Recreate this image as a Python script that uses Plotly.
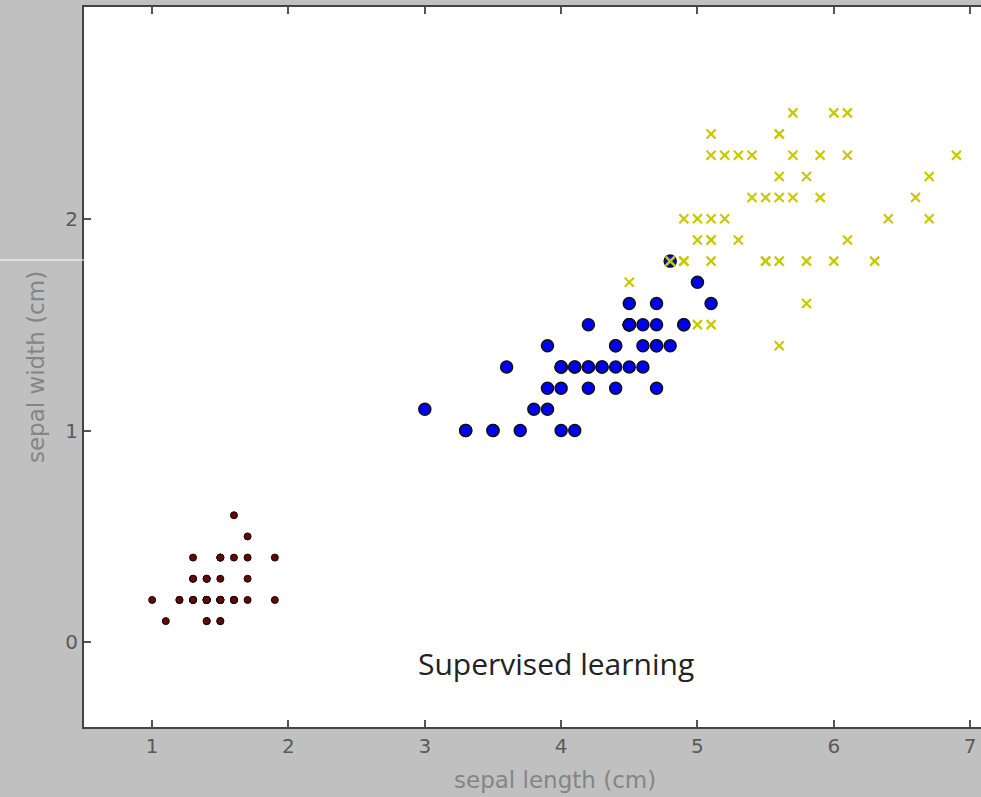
import plotly.graph_objects as go

setosa_x = [1.4, 1.4, 1.3, 1.5, 1.4, 1.7, 1.4, 1.5, 1.4, 1.5, 1.5, 1.6, 1.4, 1.1, 1.2, 1.5, 1.3, 1.4, 1.7, 1.5,
            1.7, 1.5, 1.0, 1.7, 1.9, 1.6, 1.6, 1.5, 1.4, 1.6, 1.6, 1.5, 1.5, 1.4, 1.5, 1.2, 1.3, 1.4, 1.3, 1.5,
            1.3, 1.3, 1.3, 1.6, 1.9, 1.4, 1.6, 1.4, 1.5, 1.4]
setosa_y = [0.2, 0.2, 0.2, 0.2, 0.2, 0.4, 0.3, 0.2, 0.2, 0.1, 0.2, 0.2, 0.1, 0.1, 0.2, 0.4, 0.4, 0.3, 0.3, 0.3,
            0.2, 0.4, 0.2, 0.5, 0.2, 0.2, 0.4, 0.2, 0.2, 0.2, 0.2, 0.4, 0.1, 0.2, 0.2, 0.2, 0.2, 0.1, 0.2, 0.2,
            0.3, 0.3, 0.2, 0.6, 0.4, 0.3, 0.2, 0.2, 0.2, 0.2]

versicolor_x = [4.7, 4.5, 4.9, 4.0, 4.6, 4.5, 4.7, 3.3, 4.6, 3.9, 3.5, 4.2, 4.0, 4.7, 3.6, 4.4, 4.5, 4.1, 4.5, 3.9,
                4.8, 4.0, 4.9, 4.7, 4.3, 4.4, 4.8, 5.0, 4.5, 3.5, 3.8, 3.7, 3.9, 5.1, 4.5, 4.5, 4.7, 4.4, 4.1, 4.0,
                4.4, 4.6, 4.0, 3.3, 4.2, 4.2, 4.2, 4.3, 3.0, 4.1]
versicolor_y = [1.4, 1.5, 1.5, 1.3, 1.5, 1.3, 1.6, 1.0, 1.3, 1.4, 1.0, 1.5, 1.0, 1.4, 1.3, 1.4, 1.5, 1.0, 1.5, 1.1,
                1.8, 1.3, 1.5, 1.2, 1.3, 1.4, 1.4, 1.7, 1.5, 1.0, 1.1, 1.0, 1.2, 1.6, 1.5, 1.6, 1.5, 1.3, 1.3, 1.3,
                1.2, 1.4, 1.2, 1.0, 1.3, 1.2, 1.3, 1.3, 1.1, 1.3]

virginica_x = [6.0, 5.1, 5.9, 5.6, 5.8, 6.6, 4.5, 6.3, 5.8, 6.1, 5.1, 5.3, 5.5, 5.0, 5.1, 5.3, 5.5, 6.7, 6.9, 5.0,
               5.7, 4.9, 6.7, 4.9, 5.7, 6.0, 4.8, 4.9, 5.6, 5.8, 6.1, 6.4, 5.6, 5.1, 5.6, 6.1, 5.6, 5.5, 4.8, 5.4,
               5.6, 5.1, 5.1, 5.9, 5.7, 5.2, 5.0, 5.2, 5.4, 5.1]
virginica_y = [2.5, 1.9, 2.1, 1.8, 2.2, 2.1, 1.7, 1.8, 1.8, 2.5, 2.0, 1.9, 2.1, 2.0, 2.4, 2.3, 1.8, 2.2, 2.3, 1.5,
               2.3, 2.0, 2.0, 1.8, 2.1, 1.8, 1.8, 1.8, 2.1, 1.6, 1.9, 2.0, 2.2, 1.5, 1.4, 2.3, 2.4, 1.8, 1.8, 2.1,
               2.4, 2.3, 1.9, 2.3, 2.5, 2.3, 1.9, 2.0, 2.3, 1.8]

x_ticks = [1, 2, 3, 4, 5, 6, 7]
y_ticks = [0, 1, 2]
x_title = "sepal length (cm)"
y_title = "sepal width (cm)"
note_text = "Supervised learning"

fig = go.Figure()
fig.add_trace(go.Scatter(x=setosa_x, y=setosa_y, mode="markers",
                         marker=dict(symbol="circle", size=7, color="#5e0b0b",
                                     line=dict(color="#220000", width=1))))
fig.add_trace(go.Scatter(x=versicolor_x, y=versicolor_y, mode="markers",
                         marker=dict(symbol="circle", size=12, color="#0000f0",
                                     line=dict(color="#111111", width=1.5))))
fig.add_trace(go.Scatter(x=virginica_x, y=virginica_y, mode="markers",
                         marker=dict(symbol="x-thin", size=9, color="#c8c800",
                                     line=dict(color="#c8c800", width=2.2))))

axis_common = dict(showgrid=False, zeroline=False, showline=True, linecolor="#444444", linewidth=2,
                   ticks="inside", ticklen=7, tickwidth=1.5, tickcolor="#555555",
                   tickfont=dict(family="DejaVu Sans", size=20, color="#5a5a5a"))

fig.update_xaxes(range=[0.5, 7.08], tickvals=x_ticks, mirror="ticks", **axis_common)
fig.update_yaxes(range=[-0.4, 3.0], tickvals=y_ticks, mirror=False,
                 title=dict(text=y_title, font=dict(family="DejaVu Sans", size=23, color="#858585"), standoff=14),
                 **axis_common)

# x axis title (centred on the uncropped original axis, which extends past the right edge)
fig.add_annotation(x=(555 - 84) / 897, y=-(780 - 727) / 720, xref="paper", yref="paper", text=x_title,
                   showarrow=False, xanchor="center", yanchor="middle",
                   font=dict(family="DejaVu Sans", size=23, color="#858585"))

fig.add_annotation(x=3.96, y=-0.1, xref="x", yref="y", text=note_text, showarrow=False,
                   font=dict(family="Open Sans", size=30, color="#222222"))

# thin white artifact line on the left margin
fig.add_shape(type="line", xref="paper", yref="paper", x0=-84 / 897, x1=0, y0=1 - (260 - 7) / 720,
              y1=1 - (260 - 7) / 720, line=dict(color="#ffffff", width=1))

fig.update_layout(width=981, height=797, margin=dict(l=84, r=0, t=7, b=70),
                  paper_bgcolor="#c0c0c0", plot_bgcolor="#ffffff", showlegend=False)

fig.write_html("out.html", config={"displayModeBar": False})

# remove the default page margin so the figure sits flush with the window
with open("out.html", "r", encoding="utf-8") as f:
    html = f.read()
html = html.replace("<body>", '<body style="margin:0;overflow:hidden;background:#c0c0c0">', 1)
with open("out.html", "w", encoding="utf-8") as f:
    f.write(html)
